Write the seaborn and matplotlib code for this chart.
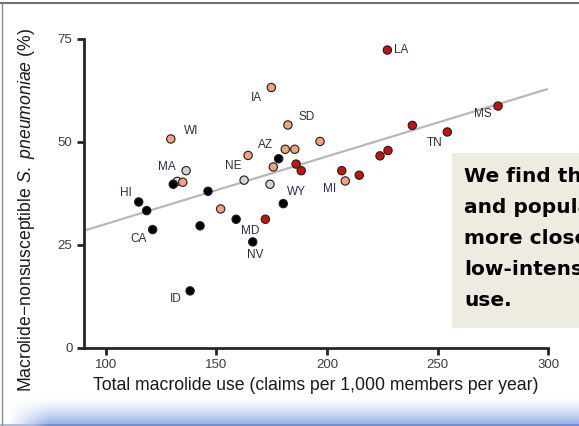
import numpy as np
import pandas as pd
import matplotlib
matplotlib.use('Agg')
import matplotlib.pyplot as plt
import seaborn as sns
from matplotlib.lines import Line2D
from matplotlib.patches import Rectangle

# ---------------------------------------------------------------------------
# Data: macrolide use vs. % nonsusceptible S. pneumoniae
# ---------------------------------------------------------------------------
q1_use = [114.9, 118.5, 121.2, 130.5, 142.6, 146.2, 138.1, 158.9, 166.4, 178.1, 180.2]
q1_res = [35.4, 33.3, 28.7, 39.7, 29.6, 38.0, 13.8, 31.2, 25.7, 45.9, 35.0]

q2_use = [136.3, 132.3, 162.5, 174.2]
q2_res = [43.0, 40.4, 40.7, 39.7]

q3_use = [129.4, 134.8, 151.9, 164.3, 174.8, 182.3, 181.1, 185.4, 196.8, 175.7, 208.2]
q3_res = [50.7, 40.2, 33.7, 46.7, 63.2, 54.1, 48.2, 48.2, 50.1, 43.9, 40.5]

q4_use = [172.1, 186.0, 188.3, 206.6, 214.5, 223.9, 227.5, 238.5, 254.3, 277.2, 227.2]
q4_res = [31.2, 44.6, 43.0, 43.0, 41.9, 46.6, 47.9, 54.0, 52.4, 58.7, 72.3]

# linear fit drawn in the reference
fit_use = [90, 300]
fit_res = [28.4, 62.9]

# state labels
state_names = ['LA', 'MS', 'TN', 'MI', 'WY', 'SD', 'IA', 'AZ', 'NE', 'WI', 'MA', 'HI', 'CA', 'MD', 'NV', 'ID']
state_x = [230.2, 270.3, 248.4, 201.3, 186.0, 190.7, 168.2, 172.0, 157.6, 138.7, 127.4, 109.3, 114.7, 165.3, 167.6, 131.6]
state_y = [72.3, 56.8, 49.7, 38.6, 37.7, 56.1, 60.7, 49.2, 44.1, 52.7, 43.8, 37.5, 26.3, 28.4, 22.5, 11.8]

df = pd.concat([
    pd.DataFrame({'use': q2_use, 'res': q2_res, 'group': 'Q2'}),
    pd.DataFrame({'use': q1_use, 'res': q1_res, 'group': 'Q1'}),
    pd.DataFrame({'use': q3_use, 'res': q3_res, 'group': 'Q3'}),
    pd.DataFrame({'use': q4_use, 'res': q4_res, 'group': 'Q4'}),
], ignore_index=True)

palette = {'Q1': '#000000', 'Q2': '#d4d4d4', 'Q3': '#f2a27c', 'Q4': '#c8100f'}

# ---------------------------------------------------------------------------
# Style
# ---------------------------------------------------------------------------
sns.set_style('ticks')
plt.rcParams['font.family'] = ['Liberation Sans', 'DejaVu Sans']
plt.rcParams['mathtext.fontset'] = 'custom'
plt.rcParams['mathtext.rm'] = 'Liberation Sans'
plt.rcParams['mathtext.it'] = 'Liberation Sans:italic'

fig = plt.figure(figsize=(5.79, 4.26), dpi=100)
W, H = 579.0, 426.0
ax = fig.add_axes([83.6 / W, (H - 347.7) / H, 464.9 / W, 317.0 / H])

sns.lineplot(x=fit_use, y=fit_res, color='#b8b8b8', linewidth=1.6, ax=ax, zorder=2)
sns.scatterplot(data=df, x='use', y='res', hue='group', palette=palette,
                s=36, edgecolor='#1e1e1e', linewidth=0.8, legend=False,
                ax=ax, zorder=3, clip_on=False)

for name, lx, ly in zip(state_names, state_x, state_y):
    ha = 'left' if name == 'LA' else 'center'
    ax.text(lx, ly, name, ha=ha, va='center', fontsize=8.5, color='#2c2c48')

ax.set_xlim(90, 300)
ax.set_ylim(0, 77)
ax.set_xticks([100, 150, 200, 250, 300])
ax.set_yticks([0, 25, 50, 75])
ax.spines['top'].set_visible(False)
ax.spines['right'].set_visible(False)
ax.spines['left'].set_bounds(0, 75)
for side in ['left', 'bottom']:
    ax.spines[side].set_linewidth(2.0)
ax.tick_params(width=2.0, length=5, pad=3, labelsize=9.5, labelcolor='#3c3c3c')

ax.set_xlabel('Total macrolide use (claims per 1,000 members per year)', fontsize=12.7, color='#1a1a1a')
ax.set_ylabel('Macrolide\u2212nonsusceptible $\\mathit{S.\\ pneumoniae}$ (%)', fontsize=12.7, color='#1a1a1a')
ax.xaxis.set_label_coords(0.499, -0.093)
ax.yaxis.set_label_coords(-0.100, 0.434)

# ---------------------------------------------------------------------------
# Slide decorations: borders, text box, bottom gradient
# ---------------------------------------------------------------------------
fig.add_artist(Line2D([0, 1], [1 - 3 / H, 1 - 3 / H], color='#707070', linewidth=1.5))
fig.add_artist(Line2D([2 / W, 2 / W], [0, 1 - 3 / H], color='#8c8c8c', linewidth=1.0))

fig.add_artist(Rectangle((452 / W, (H - 328) / H), (W - 452) / W + 0.01, 175 / H,
                         facecolor='#eeece1', edgecolor='none', transform=fig.transFigure))
box_lines = ['We find that', 'and population', 'more closely', 'low-intensity', 'use.']
for i, line in enumerate(box_lines):
    fig.text(464 / W, (H - (182 + 31 * i)) / H, line, fontsize=14.5, fontweight='bold',
             family='DejaVu Sans', color='#000000', va='baseline', ha='left')

grad_ax = fig.add_axes([0, 0, 1, 30 / H])
rows = np.linspace(0, 1, 30)[:, None]
cols = np.clip((np.arange(579) - 8) / 40.0, 0, 1)[None, :]
img = np.ones((30, 579, 4))
img[..., 0] = 0.56
img[..., 1] = 0.67
img[..., 2] = 0.90
img[..., 3] = (rows ** 1.5) * cols
img[-2:, :, 0] = 0.45
img[-2:, :, 1] = 0.56
img[-2:, :, 2] = 0.85
img[-2:, :, 3] = np.maximum(cols[0], 0.6)
grad_ax.imshow(img, aspect='auto', extent=[0, 1, 0, 1])
grad_ax.axis('off')

fig.savefig('out.png', dpi=100)
